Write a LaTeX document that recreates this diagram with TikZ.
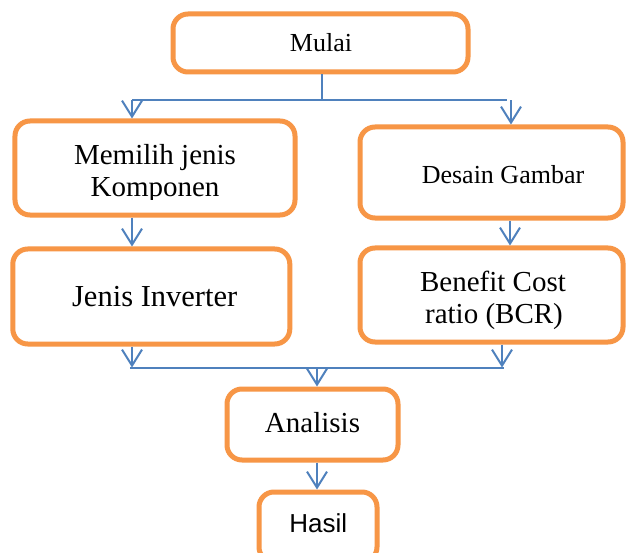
\documentclass[tikz,border=0pt]{standalone}
\usepackage{fontspec}
\setmainfont{Liberation Serif}
\newfontfamily\arialf{Liberation Sans}
\usetikzlibrary{arrows.meta}
\definecolor{boxorange}{HTML}{F79646}
\definecolor{lineblue}{HTML}{4F81BD}
\begin{document}
\begin{tikzpicture}[x=1bp,y=-1bp,
  box/.style={draw=boxorange, line width=5bp, rounded corners=15bp, rectangle, fill=white, inner sep=0pt},
  lbl/.style={anchor=base, inner sep=0pt, font=\fontsize{29bp}{32bp}\selectfont},
  lblsm/.style={anchor=base, inner sep=0pt, font=\fontsize{26bp}{29bp}\selectfont},
  conn/.style={draw=lineblue, line width=2bp},
  arr/.style={conn, -{Straight Barb[length=16bp,width=20bp]}}]
\clip (0,0) rectangle (627,553);
\fill[white] (0,0) rectangle (627,553);
% boxes
\node[box, minimum width=295bp, minimum height=58bp] (mulai) at (320.5,43) {};
\node[box, minimum width=280bp, minimum height=94bp] (memilih) at (155,168) {};
\node[box, minimum width=263bp, minimum height=91bp] (desain) at (491.5,172.5) {};
\node[box, minimum width=277bp, minimum height=95bp] (jenis) at (151.3,296.5) {};
\node[box, minimum width=263bp, minimum height=94bp] (benefit) at (491.5,295) {};
\node[box, minimum width=171bp, minimum height=71bp] (analisis) at (312.5,424.5) {};
\node[box, minimum width=118bp, minimum height=70bp] (hasil) at (318,527) {};
% texts
\node[lblsm] (tmulai) at (321,52) {Mulai};
\node[lbl] (tmemilih) at (155,165) {Memilih jenis};
\begin{scope}
  \clip (15,170) rectangle (295,199.5);
  \node[lbl] (tkomponen) at (155,197) {Komponen};
\end{scope}
\node[lblsm] (tdesain) at (503,183.3) {Desain Gambar};
\node[lbl, font=\fontsize{30.5bp}{33bp}\selectfont] (tjenis) at (154.7,306.7) {Jenis Inverter};
\node[lbl] (tbenefit) at (493,291.7) {Benefit Cost};
\node[lbl] (tratio) at (494,323) {ratio (BCR)};
\node[lbl] (tanalisis) at (312.5,432) {Analisis};
\node[lblsm, font=\arialf\fontsize{26bp}{29bp}\selectfont] (thasil) at (318.3,532.7) {Hasil};
% connector coordinates
\coordinate (tl) at (132,100.5);
\coordinate (tr) at (507,100.5);
\coordinate (tm) at (322,100.5);
\coordinate (tra) at (511,100.5);
\coordinate (bl) at (130,367.5);
\coordinate (br) at (504,367.5);
\coordinate (bla) at (132,367.5);
\coordinate (bra) at (502,367.5);
\coordinate (bm) at (317,367.5);
\coordinate (rx) at (510,0);
% connectors
\draw[conn] (mulai.south -| tm) -- (tm);
\draw[conn] (tl) -- (tr);
\draw[arr] (tl) -- (memilih.north -| tl);
\draw[arr] (tra) -- (desain.north -| tra);
\draw[arr] (memilih.south -| tl) -- (jenis.north -| tl);
\draw[arr] (desain.south -| rx) -- (benefit.north -| rx);
\draw[conn] (bl) -- (br);
\draw[arr] (jenis.south -| bla) -- (bla);
\draw[arr] (benefit.south -| bra) -- (bra);
\draw[arr] (bm) -- (analisis.north -| bm);
\draw[arr] (analisis.south -| bm) -- (hasil.north -| bm);
\end{tikzpicture}
\end{document}
